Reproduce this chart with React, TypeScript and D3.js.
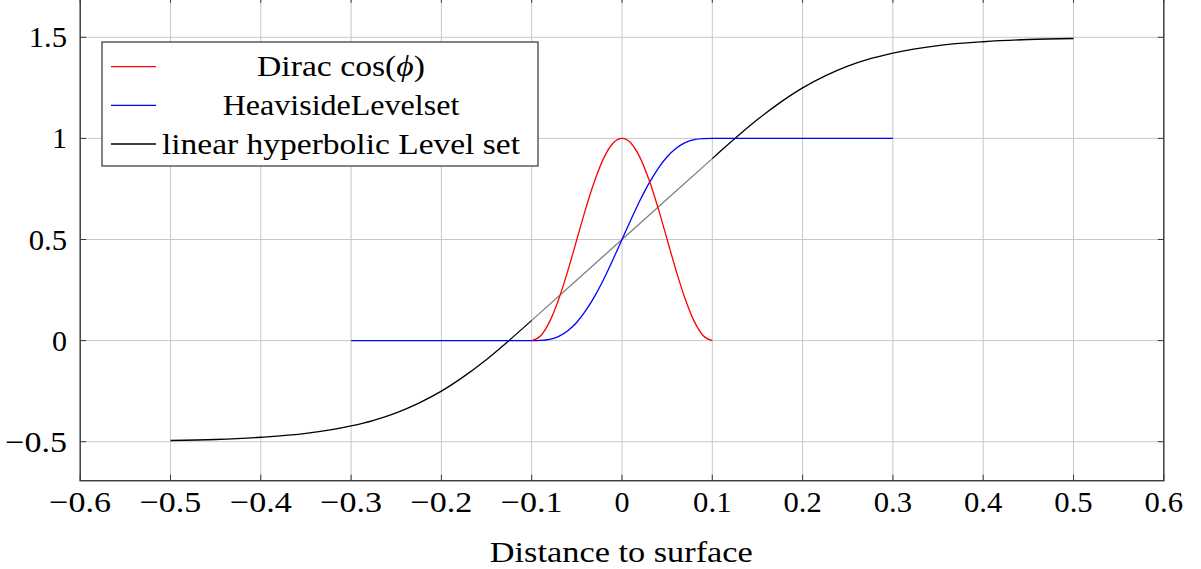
import React from "react";
import * as d3 from "d3";

const xTicks = [-0.6, -0.5, -0.4, -0.3, -0.2, -0.1, 0, 0.1, 0.2, 0.3, 0.4, 0.5, 0.6];
const yTicks = [-0.5, 0, 0.5, 1, 1.5];
const xTickLabels = ["−0.6", "−0.5", "−0.4", "−0.3", "−0.2", "−0.1", "0", "0.1", "0.2", "0.3", "0.4", "0.5", "0.6"];
const yTickLabels = ["−0.5", "0", "0.5", "1", "1.5"];

// Dirac cos(phi)
const diracX = [-0.1, -0.09, -0.08, -0.07, -0.06, -0.05, -0.04, -0.03, -0.02, -0.01, 0, 0.01, 0.02, 0.03, 0.04, 0.05, 0.06, 0.07, 0.08, 0.09, 0.1];
const diracY = [0, 0.024, 0.095, 0.206, 0.345, 0.5, 0.655, 0.794, 0.905, 0.976, 1, 0.976, 0.905, 0.794, 0.655, 0.5, 0.345, 0.206, 0.095, 0.024, 0];

// HeavisideLevelset
const heavX = [-0.3, -0.2, -0.1, -0.09, -0.08, -0.07, -0.06, -0.05, -0.04, -0.03, -0.02, -0.01, 0, 0.01, 0.02, 0.03, 0.04, 0.05, 0.06, 0.07, 0.08, 0.09, 0.1, 0.2, 0.3];
const heavY = [0, 0, 0, 0.001, 0.006, 0.021, 0.049, 0.091, 0.149, 0.221, 0.306, 0.401, 0.5, 0.599, 0.694, 0.779, 0.851, 0.909, 0.951, 0.979, 0.994, 0.999, 1, 1, 1];

// linear hyperbolic Level set: left tail, linear middle, right tail
const hypLeftX = [-0.5, -0.45, -0.4, -0.35, -0.3, -0.275, -0.25, -0.225, -0.2, -0.175, -0.15, -0.125, -0.1];
const hypLeftY = [-0.494, -0.489, -0.478, -0.459, -0.422, -0.394, -0.357, -0.309, -0.25, -0.177, -0.093, 0.001, 0.1];
const hypMidX = [-0.1, 0, 0.1];
const hypMidY = [0.1, 0.5, 0.9];
const hypRightX = [0.1, 0.125, 0.15, 0.175, 0.2, 0.225, 0.25, 0.275, 0.3, 0.35, 0.4, 0.45, 0.5];
const hypRightY = [0.9, 0.999, 1.093, 1.177, 1.25, 1.309, 1.357, 1.394, 1.422, 1.459, 1.478, 1.489, 1.494];

const legendLabels = ["Dirac cos(", "HeavisideLevelset", "linear hyperbolic Level set"];
const legendColors = ["#ff0000", "#0000ff", "#000000"];

const FONT = "'Liberation Serif', 'DejaVu Serif', serif";
const FS = 30;

// Computer-Modern-like advance widths (em) used to size the labels
const cmWidth = (s: string) =>
  s.split("").reduce((a, c) => a + (c === "−" ? 0.778 : c === "." ? 0.278 : 0.5), 0) * FS;

export default function App() {
  const W = 1201, H = 569;
  const x = d3.scaleLinear().domain([-0.6, 0.6]).range([80.2, 1163.8]);
  const y = d3.scaleLinear().domain([-0.5, 1.5]).range([441.7, 37.3]);
  const yMin = -0.693, yMax = 1.7;
  const left = x(-0.6), right = x(0.6), bottom = y(yMin), top = y(yMax);

  const line = d3.line<[number, number]>().x(d => x(d[0])).y(d => y(d[1])).curve(d3.curveMonotoneX);
  const zip = (a: number[], b: number[]) => a.map((v, i) => [v, b[i]] as [number, number]);

  const tickLen = 6;
  const axisColor = "#3a3a3a";
  const gridColor = "#c8c8c8";

  const legX = 102, legY = 42, legW = 436, legH = 124;
  const rowY = [66.7, 105.3, 144];
  const legWidths = [168, 236.7, 358];
  const legCx = 341;
  const lw = 1.3;

  return (
    <svg width={W} height={H} style={{ position: "absolute", left: 0, top: 0, background: "#fff" }} fontFamily={FONT}>
      <rect x={0} y={0} width={W} height={H} fill="#fff" />
      {/* grid */}
      {xTicks.map((t, i) => (
        <line key={"gx" + i} x1={x(t)} x2={x(t)} y1={top} y2={bottom} stroke={gridColor} strokeWidth={1} />
      ))}
      {yTicks.map((t, i) => (
        <line key={"gy" + i} x1={left} x2={right} y1={y(t)} y2={y(t)} stroke={gridColor} strokeWidth={1} />
      ))}
      {/* ticks */}
      {xTicks.map((t, i) => (
        <g key={"tx" + i}>
          <line x1={x(t)} x2={x(t)} y1={bottom} y2={bottom - tickLen} stroke={axisColor} strokeWidth={1} />
          <line x1={x(t)} x2={x(t)} y1={top} y2={top + tickLen} stroke={axisColor} strokeWidth={1} />
        </g>
      ))}
      {yTicks.map((t, i) => (
        <g key={"ty" + i}>
          <line x1={left} x2={left + tickLen} y1={y(t)} y2={y(t)} stroke={axisColor} strokeWidth={1} />
          <line x1={right} x2={right - tickLen} y1={y(t)} y2={y(t)} stroke={axisColor} strokeWidth={1} />
        </g>
      ))}
      {/* curves */}
      <path d={line(zip(hypLeftX, hypLeftY)) || ""} fill="none" stroke="#000" strokeWidth={lw} />
      <path d={line(zip(hypMidX, hypMidY)) || ""} fill="none" stroke="#808080" strokeWidth={lw} />
      <path d={line(zip(hypRightX, hypRightY)) || ""} fill="none" stroke="#000" strokeWidth={lw} />
      <path d={line(zip(heavX, heavY)) || ""} fill="none" stroke="#0000ff" strokeWidth={lw} />
      <path d={line(zip(diracX, diracY)) || ""} fill="none" stroke="#ff0000" strokeWidth={lw} />
      {/* frame */}
      <rect x={left} y={top} width={right - left} height={bottom - top} fill="none" stroke={axisColor} strokeWidth={1.4} />
      {/* tick labels */}
      {xTicks.map((t, i) => (
        <text key={"lx" + i} x={x(t)} y={512} textAnchor="middle" fontSize={FS} fill="#000"
          textLength={cmWidth(xTickLabels[i])} lengthAdjust="spacingAndGlyphs">{xTickLabels[i]}</text>
      ))}
      {yTicks.map((t, i) => (
        <text key={"ly" + i} x={67} y={y(t) + 10} textAnchor="end" fontSize={FS} fill="#000"
          textLength={cmWidth(yTickLabels[i])} lengthAdjust="spacingAndGlyphs">{yTickLabels[i]}</text>
      ))}
      <text x={621.3} y={561.5} textAnchor="middle" fontSize={FS} fill="#000"
        textLength={263} lengthAdjust="spacingAndGlyphs">Distance to surface</text>
      {/* legend */}
      <rect x={legX} y={legY} width={legW} height={legH} fill="#fff" stroke="#333" strokeWidth={1.2} />
      {legendLabels.map((l, i) => (
        <g key={"leg" + i}>
          <line x1={111} x2={156} y1={rowY[i]} y2={rowY[i]} stroke={legendColors[i]} strokeWidth={lw} />
          <text x={legCx} y={rowY[i] + 9.5} textAnchor="middle" fontSize={FS} fill="#000"
            textLength={legWidths[i]} lengthAdjust="spacingAndGlyphs">
            {l}
            {i === 0 ? <tspan fontStyle="italic">{"\u03d5"}</tspan> : null}
            {i === 0 ? ")" : null}
          </text>
        </g>
      ))}
    </svg>
  );
}
